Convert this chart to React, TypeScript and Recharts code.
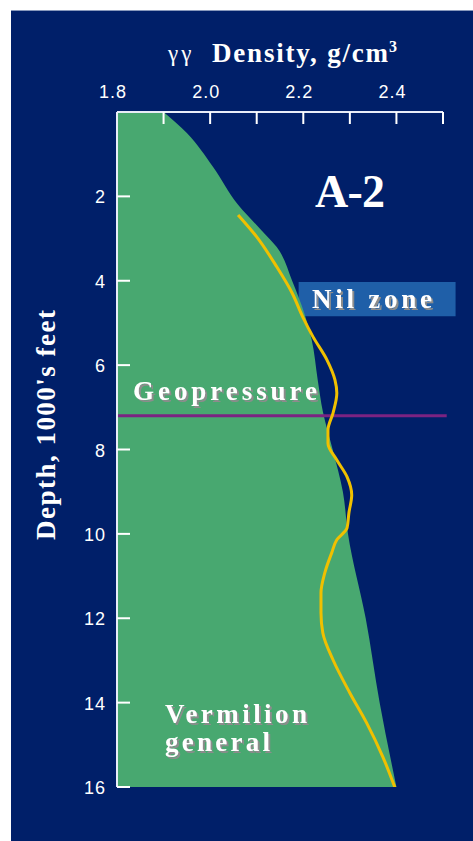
import { ComposedChart, Area, Line, XAxis, YAxis, ReferenceLine, ReferenceArea } from "recharts"

// green envelope: depth (1000's ft) vs density (g/cm3)
const boundaryDepth = [0, 0.5, 1.3, 2.2, 2.8, 3.2, 4.0, 4.8, 5.4, 6.35, 7.1, 8, 9, 10, 12, 14, 16]
const boundaryDensity = [1.9, 1.95, 2.006, 2.06, 2.11, 2.143, 2.176, 2.203, 2.218, 2.231, 2.242, 2.263, 2.285, 2.296, 2.334, 2.364, 2.4]

// yellow well log
const logDepth = [2.44, 2.96, 3.67, 4.29, 4.86, 5.33, 5.88, 6.35, 6.66, 7.13, 7.54, 7.85, 8.25, 8.65, 9.08, 9.5, 9.86, 10.14, 10.45, 10.93, 11.4, 11.87, 12.35, 12.99, 13.77, 14.48, 15.29, 16.02]
const logDensity = [2.06, 2.1, 2.143, 2.176, 2.199, 2.221, 2.251, 2.268, 2.272, 2.264, 2.253, 2.253, 2.272, 2.294, 2.304, 2.298, 2.294, 2.272, 2.261, 2.246, 2.238, 2.238, 2.242, 2.264, 2.3, 2.336, 2.371, 2.397]

const densityTicks = [1.8, 1.9, 2.0, 2.1, 2.2, 2.3, 2.4, 2.5]
const densityTickLabels = ["1.8", "", "2.0", "", "2.2", "", "2.4", ""]
const depthTicks = [2, 4, 6, 8, 10, 12, 14, 16]

const geopressureDepth = 7.2
const nilZone = { top: 4.03, bottom: 4.84, from: 2.19, to: 2.527 }

const boundaryData = boundaryDepth.map((d, i) => ({ depth: d, density: boundaryDensity[i] }))
const logData = logDepth.map((d, i) => ({ depth: d, density: logDensity[i] }))

const serif = "'Liberation Serif', 'Times New Roman', serif"
const sans = "'Liberation Sans', Arial, sans-serif"

function DensityTick(props: any) {
  const { x, y, payload } = props
  const i = densityTicks.findIndex((t) => Math.abs(t - payload.value) < 1e-6)
  return (
    <text x={x - 4} y={y} textAnchor="middle" fill="#fff" fontFamily={sans} fontSize={18} letterSpacing={1}>
      {densityTickLabels[i] ?? ""}
    </text>
  )
}

function DepthTick(props: any) {
  const { x, y, payload } = props
  return (
    <text x={x} y={y + 7} textAnchor="end" fill="#fff" fontFamily={sans} fontSize={18} letterSpacing={1}>
      {payload.value}
    </text>
  )
}

function Shadowed({ x, y, len, children }: { x: number; y: number; len: number; children: string }) {
  return (
    <text
      x={x}
      y={y}
      fill="#fff"
      fontFamily={serif}
      fontWeight="bold"
      fontSize={27}
      textLength={len}
      lengthAdjust="spacing"
      filter="url(#grayShadow)"
    >
      {children}
    </text>
  )
}

export default function App() {
  return (
    <div style={{ position: "absolute", left: 0, top: 0, width: 473, height: 841, background: "#fff" }}>
      <div style={{ position: "absolute", left: 11, top: 10, width: 462, height: 831, background: "#001f69", borderTop: "1px solid #8898bc", boxSizing: "border-box" }} />
      <div style={{ position: "absolute", left: 0, top: 0 }}>
        <ComposedChart layout="vertical" width={473} height={841} margin={{ top: 72, right: 30, bottom: 54, left: 57 }}>
          <XAxis
            type="number"
            orientation="top"
            domain={[1.8, 2.5]}
            ticks={densityTicks}
            interval={0}
            height={40}
            tickSize={-12}
            tickMargin={26}
            tick={<DensityTick />}
            axisLine={{ stroke: "#e8ecf8", strokeWidth: 2 }}
            tickLine={{ stroke: "#fff", strokeWidth: 2 }}
            allowDataOverflow
          />
          <YAxis
            type="number"
            dataKey="depth"
            domain={[0, 16]}
            ticks={depthTicks}
            interval={0}
            width={60}
            tickSize={-13}
            tickMargin={24}
            tick={<DepthTick />}
            axisLine={{ stroke: "#e8ecf8", strokeWidth: 2 }}
            tickLine={{ stroke: "#fff", strokeWidth: 2 }}
            allowDataOverflow
          />
          <ReferenceArea x1={nilZone.from} x2={nilZone.to} y1={nilZone.top} y2={nilZone.bottom} fill="#1f5fa8" fillOpacity={1} stroke="none" ifOverflow="visible" />
          <Area data={boundaryData} dataKey="density" type="monotone" fill="#48a870" fillOpacity={1} stroke="none" isAnimationActive={false} />
          <ReferenceLine
            segment={[{ x: 1.8, y: geopressureDepth }, { x: 2.508, y: geopressureDepth }]}
            stroke="#7b2382"
            strokeWidth={3}
            ifOverflow="visible"
          />
          <Line data={logData} dataKey="density" type="monotone" stroke="#f0c000" strokeWidth={3} dot={false} isAnimationActive={false} />
        </ComposedChart>
      </div>
      <svg width={473} height={841} style={{ position: "absolute", left: 0, top: 0, pointerEvents: "none" }}>
        <defs>
          <filter id="grayShadow" x="-5%" y="-20%" width="115%" height="150%">
            <feDropShadow dx="2" dy="2" stdDeviation="0" floodColor="#8c8c8c" floodOpacity="1" />
          </filter>
        </defs>
        <text x={168} y={61} fill="#fff" fontFamily={serif} fontSize={23} letterSpacing={3}>γγ</text>
        <text x={212} y={62} fill="#fff" fontFamily={serif} fontWeight="bold" fontSize={27} textLength={176} lengthAdjust="spacing">Density, g/cm</text>
        <text x={389} y={52} fill="#fff" fontFamily={serif} fontWeight="bold" fontSize={16}>3</text>
        <text
          x={55}
          y={425}
          transform="rotate(-90 55 425)"
          textAnchor="middle"
          fill="#fff"
          fontFamily={serif}
          fontWeight="bold"
          fontSize={27}
          textLength={230}
          lengthAdjust="spacing"
        >
          Depth, 1000's feet
        </text>
        <text x={315} y={207} fill="#fff" fontFamily={serif} fontWeight="bold" fontSize={46} textLength={70} lengthAdjust="spacing">A-2</text>
        <Shadowed x={312} y={308} len={120}>Nil zone</Shadowed>
        <Shadowed x={133} y={400} len={184}>Geopressure</Shadowed>
        <Shadowed x={165} y={723} len={142}>Vermilion</Shadowed>
        <Shadowed x={165} y={751} len={105}>general</Shadowed>
      </svg>
    </div>
  )
}
